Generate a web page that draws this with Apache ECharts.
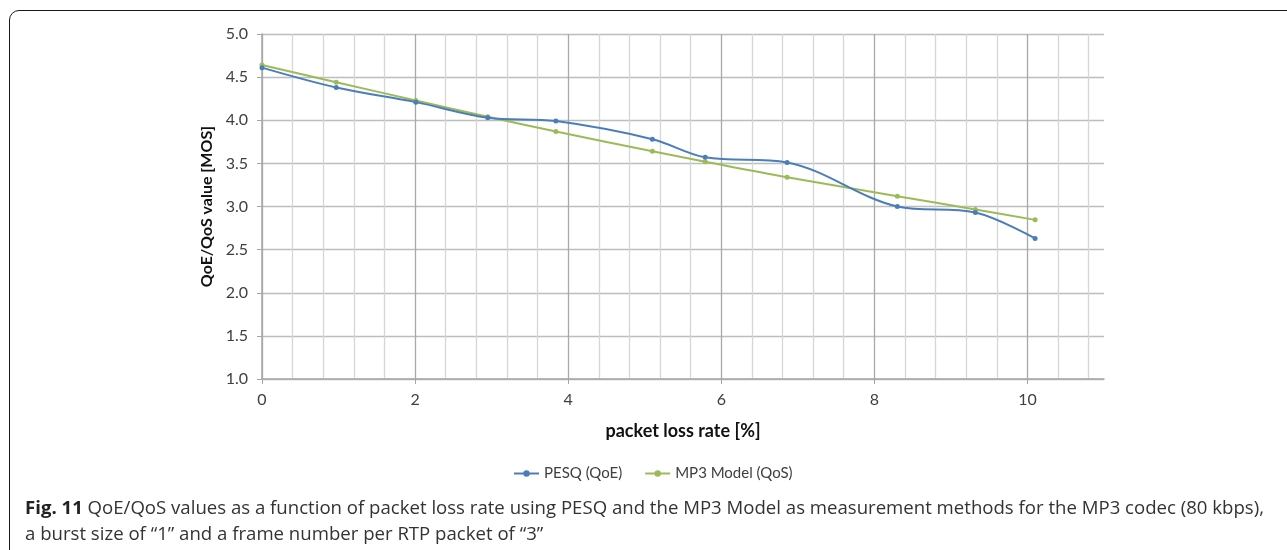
<!DOCTYPE html>
<html>
<head>
<meta charset="utf-8">
<script src="https://cdn.jsdelivr.net/npm/echarts@6/dist/echarts.min.js"></script>
<style>
  html, body { margin: 0; padding: 0; background: #fff; width: 1287px; height: 550px; overflow: hidden; }
  #chart { position: absolute; left: 0; top: 0; width: 1287px; height: 550px; }
  #frame { position: absolute; left: 9px; top: 10px; width: 1320px; height: 560px; border: 1.6px solid #1a1a1a; border-radius: 10px; box-sizing: border-box; pointer-events: none; }
  #caption { position: absolute; left: 25px; top: 494px; width: 1262px; font-family: "Open Sans", "Noto Sans", sans-serif; font-size: 18.6px; line-height: 26px; color: #333; white-space: nowrap; }
  #caption b { color: #222; }
</style>
</head>
<body>
<div id="chart"></div>
<div id="frame"></div>
<div id="caption"><b>Fig. 11</b> QoE/QoS values as a function of packet loss rate using PESQ and the MP3 Model as measurement methods for the MP3 codec (80 kbps),<br>a burst size of “1” and a frame number per RTP packet of “3”</div>
<script>
// ---- data ----
const lossRate = [0, 0.97, 2.01, 2.95, 3.84, 5.10, 5.79, 6.86, 8.30, 9.32, 10.10];
const pesqQoE  = [4.61, 4.38, 4.21, 4.03, 3.99, 3.78, 3.57, 3.51, 3.00, 2.93, 2.63];
const mp3QoS   = [4.64, 4.44, 4.23, 4.04, 3.87, 3.64, 3.52, 3.34, 3.12, 2.965, 2.845];
const seriesNames = ['PESQ (QoE)', 'MP3 Model (QoS)'];
const xMajorTicks = [0, 2, 4, 6, 8, 10];
const yTickLabels = ['1.0', '1.5', '2.0', '2.5', '3.0', '3.5', '4.0', '4.5', '5.0'];

const blue = '#4a7ebb', green = '#9bbb59';
const majorGrid = '#a8a8a8', minorGrid = '#d6d6d6', hGrid = '#bdbdbd';
const labelColor = '#404040';
const font = 'Lato, "Open Sans", sans-serif';

// split line colours for the minor axis (0.4 steps from 0 to 11)
const minorColors = [];
for (let i = 0; i <= 28; i++) {
  minorColors.push((i % 5 === 0 || i === 28) ? 'transparent' : minorGrid);
}

const chart = echarts.init(document.getElementById('chart'), null, { renderer: 'canvas' });
chart.setOption({
  animation: false,
  backgroundColor: 'transparent',
  grid: { left: 262, right: 183, top: 34, bottom: 171, containLabel: false },
  legend: {
    data: seriesNames,
    left: 508, top: 461,
    itemWidth: 25, itemHeight: 8, itemGap: 22,
    textStyle: { fontFamily: font, fontSize: 15, color: labelColor }
  },
  xAxis: [
    {
      type: 'value', min: 0, max: 11, interval: 2,
      name: 'packet loss rate [%]', nameLocation: 'middle', nameGap: 43,
      nameTextStyle: { fontFamily: font, fontSize: 18, fontWeight: 'bold', color: '#111' },
      axisLine: { show: true, lineStyle: { color: '#a6a6a6', width: 1.5 } },
      axisTick: { show: true, length: 5, customValues: xMajorTicks, lineStyle: { color: '#a6a6a6' } },
      axisLabel: { show: true, customValues: xMajorTicks, margin: 13,
        fontFamily: font, fontSize: 16, color: labelColor,
        formatter: v => (Math.abs(v % 2) < 1e-6 && v <= 10 ? String(v) : '') },
      splitLine: { show: true, lineStyle: { color: [majorGrid, majorGrid, majorGrid, majorGrid, majorGrid, majorGrid, 'transparent'], width: 1.3 } },
      z: 3
    },
    {
      type: 'value', min: 0, max: 11, interval: 0.4, position: 'bottom',
      axisLine: { show: false }, axisTick: { show: false }, axisLabel: { show: false },
      splitLine: { show: true, lineStyle: { color: minorColors, width: 1.3 } }
    }
  ],
  yAxis: {
    type: 'value', min: 1, max: 5, interval: 0.5,
    name: 'QoE/QoS value [MOS]', nameLocation: 'middle', nameGap: 39,
    nameTextStyle: { fontFamily: font, fontSize: 16, fontWeight: 'bold', color: '#111' },
    axisLine: { show: true, lineStyle: { color: '#a6a6a6', width: 1.5 } },
    axisTick: { show: true, length: 5, lineStyle: { color: '#a6a6a6' } },
    axisLabel: { margin: 14, fontFamily: font, fontSize: 16, color: labelColor,
      formatter: v => yTickLabels[Math.round((v - 1) / 0.5)] },
    splitLine: { show: true, lineStyle: { color: hGrid, width: 1.3 } }
  },
  series: [
    {
      name: seriesNames[0], type: 'line', xAxisIndex: 0, smooth: 0.35,
      data: lossRate.map((x, i) => [x, pesqQoE[i]]),
      symbol: 'circle', symbolSize: 5,
      itemStyle: { color: blue }, lineStyle: { color: blue, width: 2 }, z: 5
    },
    {
      name: seriesNames[1], type: 'line', xAxisIndex: 0, smooth: 0.35,
      data: lossRate.map((x, i) => [x, mp3QoS[i]]),
      symbol: 'circle', symbolSize: 5,
      itemStyle: { color: green }, lineStyle: { color: green, width: 2 }, z: 4
    }
  ]
});
</script>
</body>
</html>
